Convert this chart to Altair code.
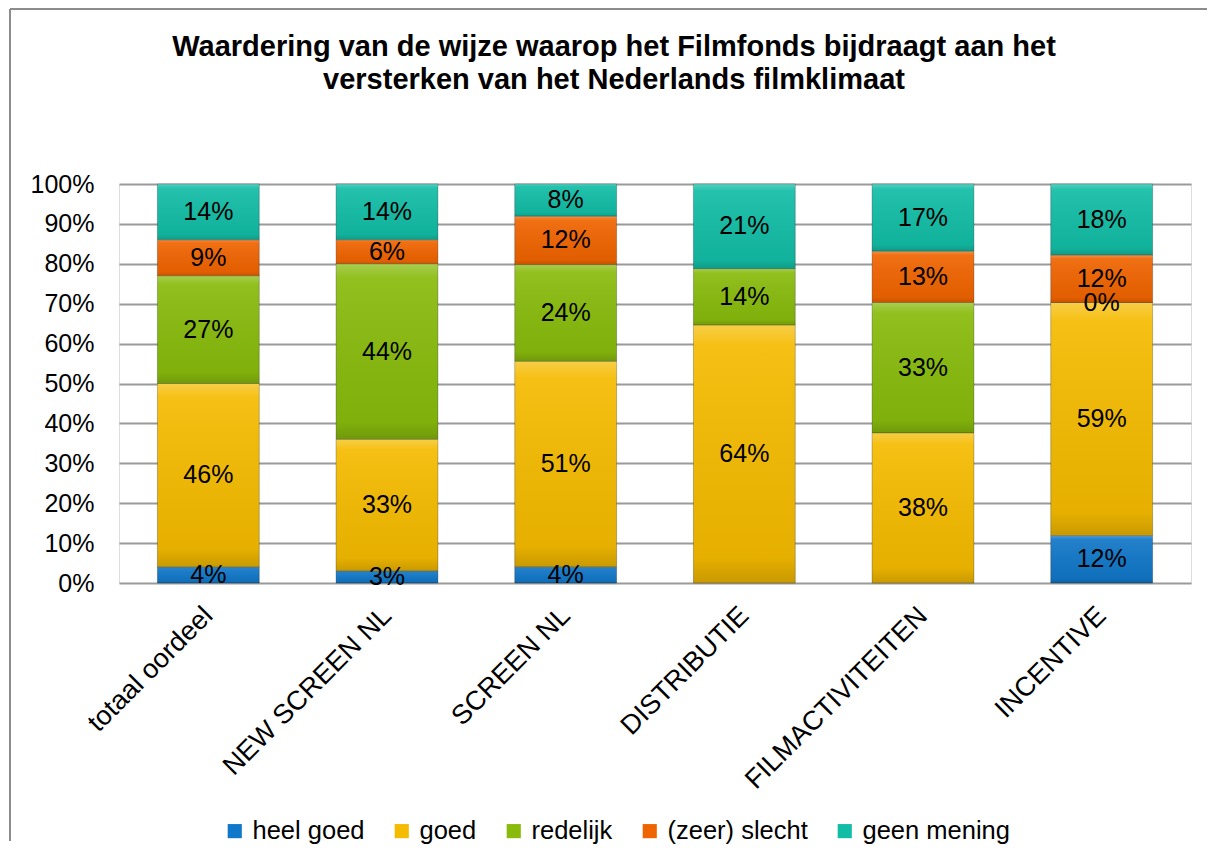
import altair as alt
import pandas as pd

categories = ["totaal oordeel", "NEW SCREEN NL", "SCREEN NL", "DISTRIBUTIE", "FILMACTIVITEITEN", "INCENTIVE"]
series = ["heel goed", "goed", "redelijk", "(zeer) slecht", "geen mening"]
heel_goed = [4, 3, 4, None, None, 12]
goed = [46, 33, 51, 64, 38, 59]
redelijk = [27, 44, 24, 14, 33, 0]
zeer_slecht = [9, 6, 12, None, 13, 12]
geen_mening = [14, 14, 8, 21, 17, 18]
colors = ["#1177c8", "#f5bb00", "#88bb0c", "#f06400", "#12bda6"]
title_lines = ["Waardering van de wijze waarop het Filmfonds bijdraagt aan het",
               "versterken van het Nederlands filmklimaat"]

rows = []
for si, (name, vals) in enumerate(zip(series, [heel_goed, goed, redelijk, zeer_slecht, geen_mening])):
    for ci, v in enumerate(vals):
        if v is not None:
            rows.append({"category": categories[ci], "series": name, "order": si, "value": v})
df = pd.DataFrame(rows)

FONT = "Liberation Sans"
W, H = 1072, 399

base = alt.Chart(df).transform_stack(
    stack="value", as_=["y0", "y1"], groupby=["category"], offset="normalize",
    sort=[alt.SortField("order", order="ascending")]
)

xaxis = alt.Axis(labelAngle=-45, labelFontSize=27, labelFont=FONT, labelColor="#000000",
                 ticks=False, domain=False, labelPadding=19, labelOffset=-9, labelLimit=400)
xscale = alt.Scale(paddingInner=0.43, paddingOuter=0.215)
yaxis = alt.Axis(format=".0%", values=[i / 10 for i in range(11)], labelFontSize=25,
                 labelFont=FONT, labelColor="#000000", ticks=False, domain=False,
                 labelOverlap=False, labelPadding=25, gridColor="#9a9a9a", gridWidth=2)
yscale = alt.Scale(domain=[0, 1])

bars = base.mark_bar(stroke="#000000", strokeOpacity=0.25, strokeWidth=1).encode(
    x=alt.X("category:N", sort=categories, title=None, scale=xscale, axis=xaxis),
    y=alt.Y("y0:Q", scale=yscale, title=None, axis=yaxis),
    y2="y1:Q",
    color=alt.Color("series:N", scale=alt.Scale(domain=series, range=colors),
                    legend=alt.Legend(orient="none", legendX=103, legendY=634, direction="horizontal",
                                      title=None, symbolType="square", symbolSize=200,
                                      symbolStrokeWidth=0, labelFontSize=25.5, labelFont=FONT,
                                      labelColor="#000000", columnPadding=24, labelOffset=5)),
)

shade = base.mark_bar(
    fill=alt.Gradient(gradient="linear", x1=0, x2=0, y1=0, y2=1,
                      stops=[alt.GradientStop(offset=0, color="rgba(255,255,255,0.28)"),
                             alt.GradientStop(offset=0.08, color="rgba(255,255,255,0.08)"),
                             alt.GradientStop(offset=0.9, color="rgba(0,0,0,0.06)"),
                             alt.GradientStop(offset=1, color="rgba(0,0,0,0.18)")])
).encode(
    x=alt.X("category:N", sort=categories, title=None, scale=xscale, axis=xaxis),
    y=alt.Y("y0:Q", scale=yscale, title=None, axis=yaxis),
    y2="y1:Q",
)

labels = base.transform_calculate(
    mid="(datum.y0 + datum.y1) / 2", label="datum.value + '%'"
).mark_text(fontSize=25, font=FONT, color="#000000", baseline="middle").encode(
    x=alt.X("category:N", sort=categories, title=None, scale=xscale, axis=xaxis),
    y=alt.Y("mid:Q", scale=yscale, title=None, axis=yaxis),
    text="label:N",
)

frame_top = alt.Chart(alt.Data(values=[{"f": 1}])).mark_rule(color="#8c8c8c", strokeWidth=2).encode(
    x=alt.value(-109), x2=alt.value(W + 16), y=alt.value(-175), y2=alt.value(-175))
frame_left = alt.Chart(alt.Data(values=[{"f": 1}])).mark_rule(color="#8c8c8c", strokeWidth=2).encode(
    x=alt.value(-109), x2=alt.value(-109), y=alt.value(-175), y2=alt.value(H + 258))

chart = alt.layer(frame_top, frame_left, bars, shade, labels).properties(
    width=W, height=H,
    autosize=alt.AutoSizeParams(type="none"),
    padding={"left": 111, "top": 176, "right": 16, "bottom": 262},
    title=alt.TitleParams(title_lines, font=FONT, fontSize=29, fontWeight="bold", color="#000000",
                          anchor="middle", dx=-41, offset=0, dy=87, lineHeight=33),
).configure_view(stroke=None).configure(background="#ffffff")

chart.save("out.html", embed_options={"renderer": "svg", "actions": False})
